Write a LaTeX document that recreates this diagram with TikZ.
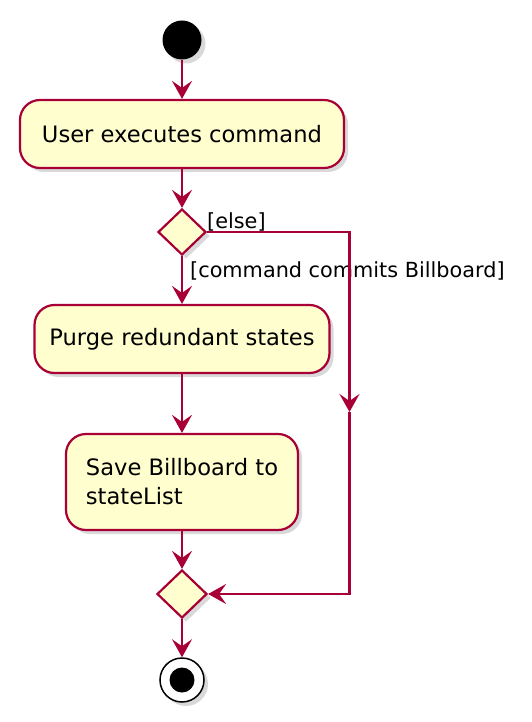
\documentclass[tikz,border=0pt]{standalone}
\usepackage{fontspec}
\setmainfont{DejaVu Sans}
\usetikzlibrary{arrows.meta}
\usetikzlibrary{shapes.geometric,shadows}

\definecolor{umlred}{HTML}{A80036}
\definecolor{umlfill}{HTML}{FEFECE}

\tikzset{
  shade/.style={drop shadow={shadow xshift=4pt,shadow yshift=-4pt,opacity=0.3}},
  activity/.style={draw=umlred,fill=umlfill,line width=2.2pt,rounded corners=20pt,
    inner sep=0pt,shade,font=\fontsize{22.6}{29}\selectfont},
  decision/.style={diamond,draw=umlred,fill=umlfill,line width=2.2pt,inner sep=0pt,shade},
  flow/.style={umlred,line width=2.2pt,->,>={Stealth[length=18pt,width=20pt,inset=7pt]}},
  guard/.style={font=\fontsize{20.8}{24}\selectfont,inner sep=0pt},
}

\begin{document}
\begin{tikzpicture}[x=1pt,y=-1pt]
\useasboundingbox (0,0) rectangle (532,722);
\node[circle,fill=black,minimum size=39pt,inner sep=0pt,shade] (start) at (182,40) {};
\node[activity,minimum width=324pt,minimum height=68pt] (execute) at (182,134) {User executes command};
\node[decision,minimum width=48pt,minimum height=46pt] (commit) at (182,232) {};
\node[guard,anchor=base west] (elselabel) at (207,228) {[else]};
\node[guard,anchor=base west] (commitlabel) at (190,277) {[command commits Billboard]};
\node[activity,minimum width=295pt,minimum height=68pt] (purge) at (182,339) {Purge redundant states};
\node[activity,minimum width=232pt,minimum height=96pt,align=left] (save) at (182,482) {Save Billboard to\\stateList};
\node[decision,minimum width=50pt,minimum height=48pt] (merge) at (182,594) {};
\node[circle,draw=black,line width=1.5pt,fill=white,minimum size=44pt,inner sep=0pt,shade] (stop) at (182,680) {};
\node[circle,fill=black,minimum size=25pt,inner sep=0pt] (stopdot) at (stop.center) {};
\coordinate (elsetop) at (349.5,232);
\coordinate (elsemid) at (349.5,412);
\coordinate (elsebot) at (349.5,594);
% main flow
\draw[flow] (start) -- (execute);
\draw[flow] (execute) -- (commit);
\draw[flow] (commit) -- (purge);
\draw[flow] (purge) -- (save);
\draw[flow] (save) -- (merge);
\draw[flow] (merge) -- (stop);
% else branch
\draw[flow] (commit.east) -- (elsetop) -- (elsemid);
\draw[flow] (elsemid) -- (elsebot) -- (merge.east);
\end{tikzpicture}
\end{document}
